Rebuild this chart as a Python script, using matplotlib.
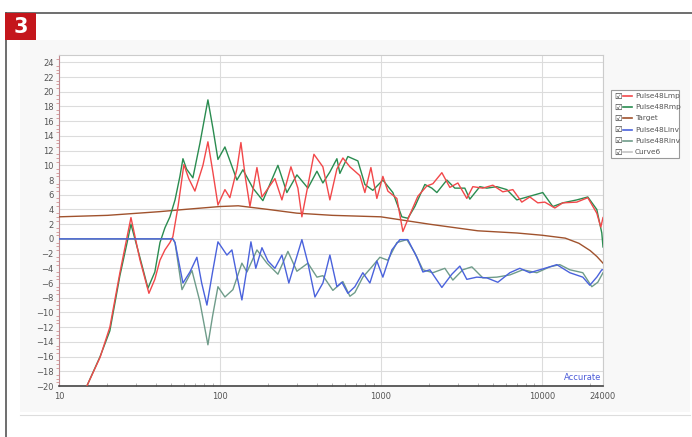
import matplotlib
matplotlib.use("Agg")
import matplotlib.pyplot as plt
from matplotlib.lines import Line2D
from matplotlib.patches import Rectangle

# Respuesta en frecuencia (Hz, dB)
frec_lmp = [14.0, 14.9, 18.0, 20.7, 23.9, 26.5, 28.0, 31.8, 36.2, 39.4, 42.4, 45.5, 48.9, 51.0, 55.0,
            59.7, 64.0, 69.9, 78.4, 84.2, 90.5, 97.2, 107.4, 115.3, 127.5, 135.0, 144.0, 153.6, 169.8,
            182.4, 219.6, 242.7, 276.1, 305.1, 323.0, 383.7, 436.2, 482.1, 533.0, 580.8, 641.9, 740.6,
            795.4, 867.0, 944.1, 1029, 1105, 1257, 1370, 1514, 1698, 1931, 2104, 2393, 2683, 3009,
            3420, 3727, 4300, 4962, 5724, 6607, 7512, 8424, 9441, 10438, 12044, 13503, 16499,
            19306, 21958, 23257, 24000]
db_lmp = [-22, -20, -16.1, -12, -4.6, 0.3, 2.9, -2.8, -7.4, -5.5, -2.9, -1.5, -0.5, 0.3, 4.5,
          10.1, 8.2, 6.5, 10.0, 13.2, 9.0, 4.6, 6.7, 5.6, 9.5, 13.1, 8.3, 4.4, 9.7,
          5.7, 8.2, 5.3, 9.8, 6.9, 3.0, 11.5, 9.8, 5.3, 9.5, 11.0, 9.8, 8.6,
          6.3, 9.7, 5.5, 8.5, 6.5, 5.5, 1.0, 3.3, 5.8, 7.2, 7.5, 9.0, 7.0, 7.6,
          5.5, 7.1, 6.9, 7.3, 6.4, 6.7, 5.0, 5.7, 4.9, 5.0, 4.2, 4.9, 5.0,
          5.6, 3.5, 1.6, 2.9]

frec_rmp = [14.0, 14.9, 18.0, 20.7, 23.9, 26.5, 28.0, 31.8, 35.7, 39.4, 42.4, 45.5, 48.9, 52.6,
            56.4, 58.9, 62.0, 67.9, 75.1, 84.2, 90.5, 97.2, 107.4, 127.5, 139.0, 160.3, 184.9, 229.2,
            260.6, 300.8, 352.1, 400.6, 436.2, 482.1, 533.0, 556.3, 623.7, 719.5, 795.4, 891.3,
            1029, 1187, 1350, 1471, 1626, 1876, 2074, 2228, 2570, 2881, 3324, 3571, 4120, 4553,
            5254, 6062, 6994, 8424, 10138, 11704, 13503, 16499, 19306, 21958, 23592, 24000]
db_rmp = [-22, -20, -16, -12.5, -5, -0.5, 2.0, -2.5, -6.7, -4.5, -0.5, 1.5, 3.0, 5.3,
          8.5, 10.9, 9.5, 8.3, 13.0, 18.9, 15.0, 10.8, 12.5, 8.0, 9.4, 6.9, 5.2, 10.0,
          6.3, 8.7, 6.9, 9.2, 7.6, 9.1, 10.9, 8.9, 11.2, 10.6, 7.4, 6.6,
          8.0, 6.3, 3.0, 2.8, 4.4, 7.4, 6.9, 6.3, 8.0, 6.9, 6.9, 5.4, 7.1, 6.9,
          7.1, 6.7, 5.3, 5.8, 6.3, 4.4, 4.9, 5.3, 5.7, 4.0, 0.8, -1.1]

frec_target = [10, 20, 42, 60, 100, 130, 200, 300, 500, 1000, 2000, 4000, 7000, 10000, 14000,
               17000, 20000, 22000, 24000]
db_target = [3.0, 3.2, 3.7, 4.0, 4.4, 4.5, 4.0, 3.5, 3.2, 3.0, 2.0, 1.1, 0.8, 0.5, 0.1,
             -0.6, -1.6, -2.4, -3.3]

frec_linv = [10, 51.0, 52.6, 58.9, 65.1, 71.9, 77.0, 83.0, 90.0, 97.2, 110.5, 118.7, 127.5, 136.9,
             146.0, 155.8, 167.0, 182.4, 198.7, 219.6, 242.7, 268.0, 323.0, 352.1, 389.3, 436.2,
             482.1, 533.0, 572.6, 623.7, 689.4, 772.6, 854.6, 944.1, 1029, 1170, 1312, 1471, 1673,
             1824, 2015, 2393, 2761, 3095, 3420, 3946, 4553, 5330, 6328, 7302, 8424, 9718, 11212,
             12392, 14929, 17977, 19869, 21958, 23592, 24000]
db_linv = [0, 0, -0.5, -6.0, -4.5, -2.5, -6.0, -9.0, -4.5, -0.4, -2.2, -1.5, -5.0, -8.3,
           -4.5, -0.4, -4.0, -1.2, -3.0, -4.0, -2.2, -6.0, -0.1, -3.3, -7.9, -6.0,
           -2.2, -6.5, -5.9, -7.4, -6.5, -4.6, -6.0, -3.0, -5.2, -1.5, -0.1, -0.1, -2.5,
           -4.5, -4.2, -6.6, -4.8, -3.7, -5.5, -5.2, -5.3, -5.9, -4.6, -4.0, -4.6, -4.2, -3.8,
           -3.5, -4.6, -5.2, -6.3, -5.2, -4.2, -4.2]

frec_rinv = [10, 51.0, 52.6, 58.1, 67.0, 75.0, 84.2, 90.0, 97.2, 107.4, 120.4, 136.9, 147.2, 169.8,
             195.9, 229.2, 264.5, 300.8, 352.1, 400.6, 436.2, 503.2, 580.8, 641.9, 689.4, 772.6,
             879.0, 985.8, 1105, 1257, 1450, 1626, 1824, 2104, 2498, 2801, 3230, 3675, 4300, 5254,
             6328, 7621, 9311, 11212, 12935, 14929, 17977, 20446, 22276, 24000]
db_rinv = [0, 0, -0.5, -6.9, -4.3, -8.5, -14.4, -10.5, -6.5, -7.9, -6.9, -3.3, -4.5, -1.5,
           -3.3, -4.8, -1.7, -4.4, -3.3, -5.2, -5.0, -7.0, -5.8, -7.8, -7.3, -5.2,
           -3.8, -2.5, -2.9, -0.5, -0.1, -1.9, -4.2, -4.6, -4.0, -5.6, -4.2, -3.8, -5.3, -5.2,
           -4.9, -4.2, -4.6, -3.8, -3.5, -4.2, -4.6, -6.5, -5.9, -4.6]

nombres = ["Pulse48Lmp", "Pulse48Rmp", "Target", "Pulse48Linv", "Pulse48Rinv", "Curve6"]
colores = ["#f2484a", "#2a8c50", "#a0522d", "#4a62dc", "#6f9c8a", "#c4c4c4"]

yticks = list(range(-20, 25, 2))
xticks = [10, 100, 1000, 10000, 24000]
xtick_labels = ["10", "100", "1000", "10000", "24000"]

fig = plt.figure(figsize=(6.92, 4.37), dpi=100)
fig.patch.set_facecolor("white")

# marco de la pagina
fig.add_artist(Rectangle((20 / 692, 1 - 412 / 437), 670 / 692, 372 / 437, transform=fig.transFigure,
                         facecolor="#f8f8f8", edgecolor="none", zorder=0))
fig.add_artist(Line2D([6 / 692, 6 / 692], [0, 1 - 13 / 437], transform=fig.transFigure, color="#555555", lw=1.2))
fig.add_artist(Line2D([6 / 692, 1], [1 - 13 / 437, 1 - 13 / 437], transform=fig.transFigure, color="#555555", lw=1.2))
fig.add_artist(Line2D([20 / 692, 690 / 692], [1 - 415 / 437, 1 - 415 / 437], transform=fig.transFigure,
                      color="#dddddd", lw=0.8))
fig.add_artist(Rectangle((5 / 692, 1 - 40 / 437), 31 / 692, 27 / 437, transform=fig.transFigure,
                         facecolor="#c4161c", edgecolor="none", zorder=3))
fig.text(20.5 / 692, 1 - 27 / 437, "3", color="white", fontsize=15, fontweight="bold",
         ha="center", va="center", zorder=4)

ax = fig.add_axes([59 / 692, 1 - 386 / 437, 544 / 692, 331 / 437])
ax.set_facecolor("white")

ax.plot(frec_lmp, db_lmp, color=colores[0], lw=1.0, zorder=5)
ax.plot(frec_rmp, db_rmp, color=colores[1], lw=1.0, zorder=4)
ax.plot(frec_target, db_target, color=colores[2], lw=1.0, zorder=3)
ax.plot(frec_linv, db_linv, color=colores[3], lw=1.0, zorder=5)
ax.plot(frec_rinv, db_rinv, color=colores[4], lw=1.0, zorder=4)

ax.set_xscale("log")
ax.set_xlim(10, 24000)
ax.set_ylim(-20, 25)
ax.set_xticks(xticks)
ax.set_xticklabels(xtick_labels)
ax.set_yticks(yticks)
ax.set_yticks([v / 2 for v in range(-40, 50)], minor=True)
ax.tick_params(axis="both", labelsize=6, colors="#555555", length=0, pad=4)
ax.tick_params(axis="y", which="minor", length=2, color="#d09090", direction="out")
ax.tick_params(axis="x", which="minor", length=2, color="#aaaaaa", direction="in", labelbottom=False)
ax.grid(True, axis="y", color="#dcdcdc", lw=0.8)
ax.grid(True, axis="x", which="major", color="#dcdcdc", lw=0.8)
ax.set_axisbelow(True)
ax.spines["left"].set_color("#c08a90")
ax.spines["bottom"].set_color("#444444")
ax.spines["bottom"].set_linewidth(1.2)
ax.spines["top"].set_color("#cccccc")
ax.spines["right"].set_color("#cccccc")
ax.text(0.997, 0.012, "Accurate", transform=ax.transAxes, ha="right", va="bottom",
        fontsize=6, color="#4b5bd8")

# leyenda con casillas
fig.add_artist(Rectangle((611 / 692, 1 - 158 / 437), 68 / 692, 68 / 437, transform=fig.transFigure,
                         facecolor="white", edgecolor="#999999", lw=0.8, zorder=5))
for i, nombre in enumerate(nombres):
    yy = 1 - (96 + i * 11.2) / 437
    fig.text(614 / 692, yy, "\u2611", fontsize=6, color="#333333", va="center", zorder=6)
    fig.add_artist(Line2D([623 / 692, 632 / 692], [yy, yy], transform=fig.transFigure,
                          color=colores[i], lw=1.2, zorder=6))
    fig.text(635 / 692, yy, nombre, fontsize=5.3, color="#555555", va="center", zorder=6)

plt.savefig("out.png", dpi=100)
